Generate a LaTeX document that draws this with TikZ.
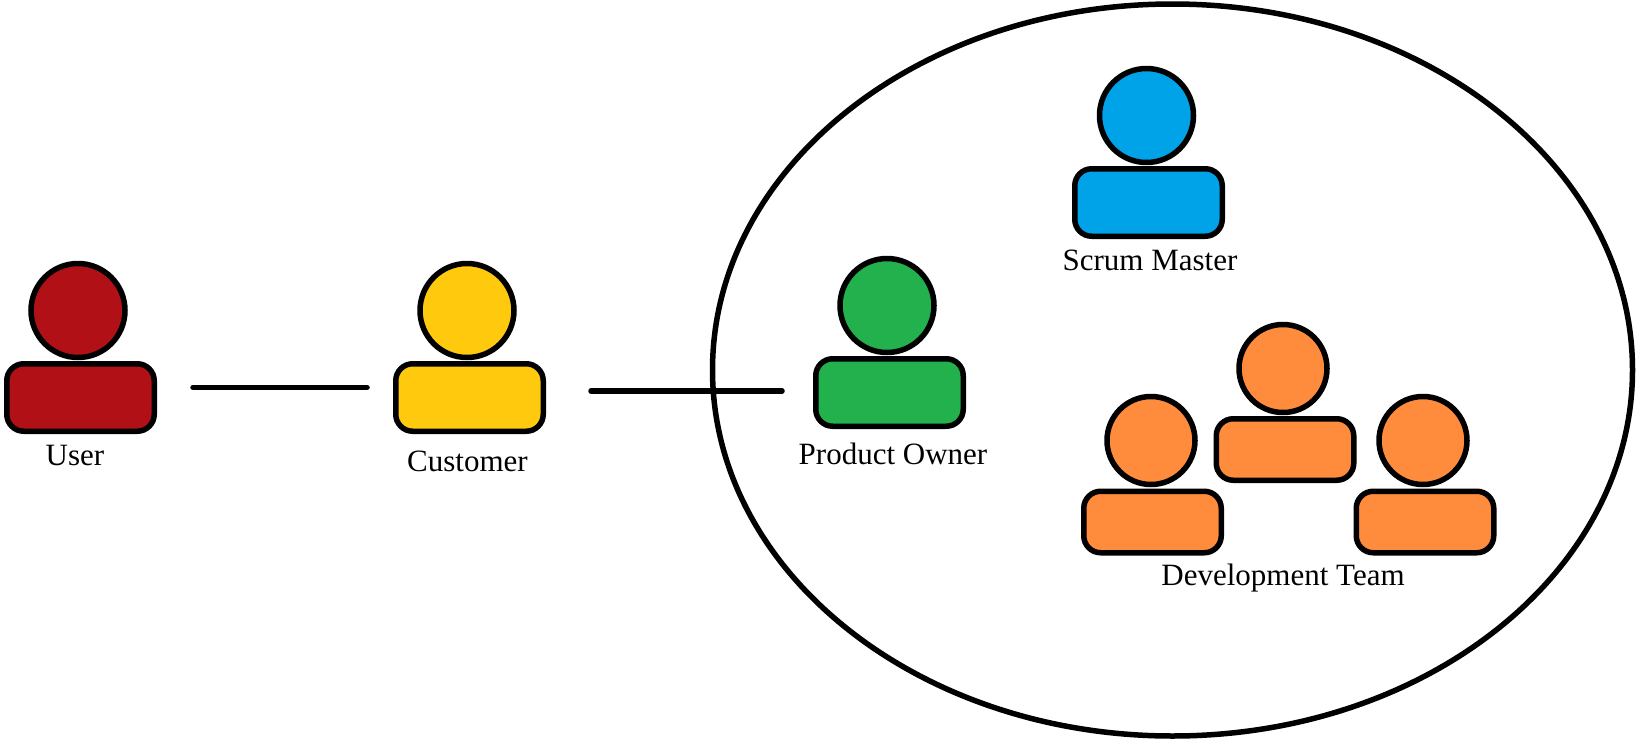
\documentclass[tikz,border=0pt]{standalone}
\usepackage{fontspec}
\setmainfont{Liberation Serif}
\usetikzlibrary{shapes.geometric}
\definecolor{userred}{HTML}{B11116}
\definecolor{custyellow}{HTML}{FFC90E}
\definecolor{ownergreen}{HTML}{22B14C}
\definecolor{masterblue}{HTML}{00A2E8}
\definecolor{devorange}{HTML}{FF8B3D}

\begin{document}
\begin{tikzpicture}[x=1pt,y=-1pt]
        \tikzset{head/.style = {shape=circle,draw,line width=5.5pt,minimum size=94pt,inner sep=0pt}}
        \tikzset{body/.style = {shape=rectangle,draw,line width=5.5pt,rounded corners=17pt,minimum width=147.5pt,minimum height=67.5pt,inner sep=0pt}}
        \tikzset{devhead/.style = {head,fill=devorange,minimum size=88pt}}
        \tikzset{devbody/.style = {body,fill=devorange,minimum width=137.5pt,minimum height=61.5pt}}
        \tikzset{link/.style = {line width=5.5pt,line cap=round}}
        \tikzset{caption/.style = {anchor=base,inner sep=0pt,font=\fontsize{31}{36}\selectfont}}
        \useasboundingbox (0,0) rectangle (1639,745);
        \node[shape=ellipse,draw,line width=5.5pt,minimum width=920pt,minimum height=732pt,inner sep=0pt] (scrumteam) at (1172.5,370) {};
        \node[head,fill=userred] (uhead) at (78,310.5) {};
        \node[body,fill=userred] (ubody) at (80.5,397.5) {};
        \node[caption] (ulabel) at (75,465) {User};
        \node[head,fill=custyellow] (chead) at (467,310.5) {};
        \node[body,fill=custyellow] (cbody) at (469.5,397.5) {};
        \node[caption] (clabel) at (467.5,471) {Customer};
        \node[head,fill=ownergreen] (ohead) at (887,305.5) {};
        \node[body,fill=ownergreen] (obody) at (889.5,392.5) {};
        \node[caption] (olabel) at (893,464) {Product Owner};
        \node[head,fill=masterblue] (mhead) at (1146.5,115.5) {};
        \node[body,fill=masterblue] (mbody) at (1148.5,202.5) {};
        \node[caption] (mlabel) at (1150,270) {Scrum Master};
        \node[devhead] (dhead2) at (1283,368.5) {};
        \node[devbody] (dbody2) at (1285,449.5) {};
        \node[devhead] (dhead1) at (1151,440.5) {};
        \node[devbody] (dbody1) at (1152.5,522) {};
        \node[devhead] (dhead3) at (1423,440.5) {};
        \node[devbody] (dbody3) at (1425,522) {};
        \node[caption] (dlabel) at (1283,585) {Development Team};
        \draw[link,shorten <=36pt,shorten >=26pt] ([yshift=10pt]ubody.east) -- ([yshift=10pt]cbody.west);
        \draw[link,shorten <=45pt,shorten >=31pt] ([yshift=6.5pt]cbody.east) -- ([yshift=1.5pt]obody.west);
    \end{tikzpicture}
\end{document}
